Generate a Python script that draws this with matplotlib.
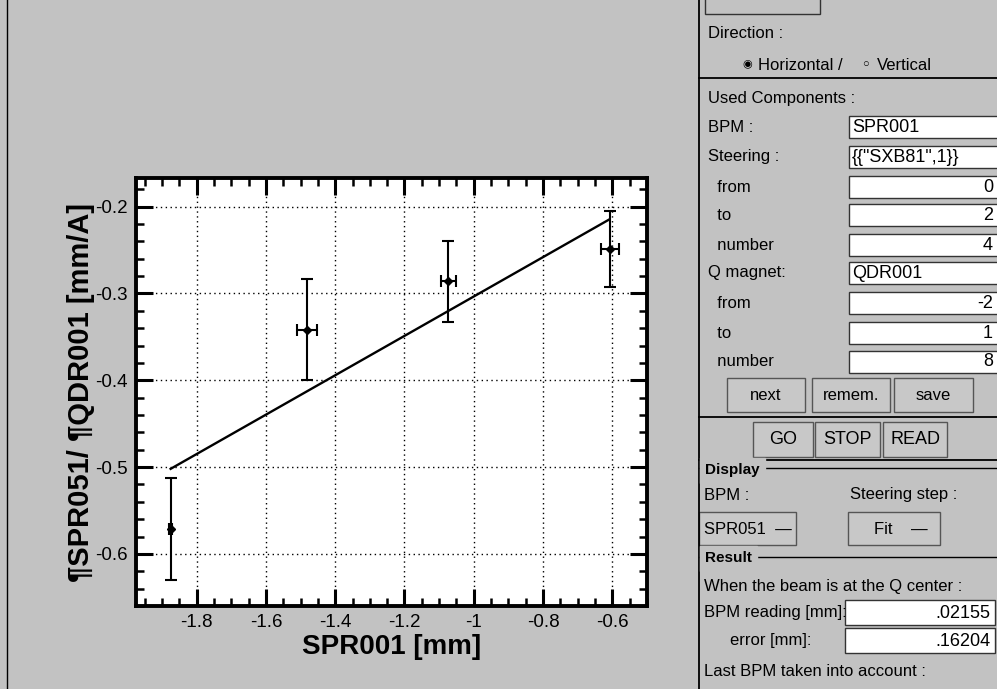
import numpy as np
import matplotlib
matplotlib.use("Agg")
import matplotlib.pyplot as plt
from matplotlib.patches import Rectangle
from matplotlib.ticker import MultipleLocator

plt.rcParams['font.family'] = ['Liberation Sans', 'DejaVu Sans']

# measured points (BPM SPR001 vs slope SPR051/QDR001)
x_pos = [-1.875, -1.482, -1.073, -0.607]
x_err = [0.005, 0.029, 0.022, 0.025]
slope = [-0.571, -0.342, -0.286, -0.249]
slope_err_lo = [0.059, 0.058, 0.047, 0.044]
slope_err_hi = [0.058, 0.059, 0.046, 0.044]

# fitted line end points
fit_x = [-1.875, -0.61]
fit_y = [-0.502, -0.215]

W, H = 997, 689
fig = plt.figure(figsize=(W / 100, H / 100), dpi=100)
fig.patch.set_facecolor('#c2c2c2')

# pixel -> figure fraction helpers
def fx(px):
    return px / W

def fy(py):
    return 1 - py / H

ax = fig.add_axes([fx(136), fy(606), fx(647) - fx(136), fy(178) - fy(606)])
ax.set_facecolor('white')
ax.errorbar(x_pos, slope, yerr=[slope_err_lo, slope_err_hi], xerr=x_err,
            fmt='D', color='black', markersize=4.5, ecolor='black',
            elinewidth=1.5, capsize=4.5, capthick=1.5, zorder=3)
ax.plot(fit_x, fit_y, color='black', lw=1.7, zorder=2)

ax.set_xlim(-1.975, -0.5)
ax.set_ylim(-0.66, -0.167)
ax.xaxis.set_major_locator(MultipleLocator(0.2))
ax.xaxis.set_minor_locator(MultipleLocator(0.05))
ax.yaxis.set_major_locator(MultipleLocator(0.1))
ax.yaxis.set_minor_locator(MultipleLocator(0.02))
ax.xaxis.set_major_formatter(plt.FuncFormatter(lambda v, p: ('%g' % round(v, 2))))
ax.yaxis.set_major_formatter(plt.FuncFormatter(lambda v, p: ('%g' % round(v, 2))))
ax.tick_params(which='major', direction='in', length=12, width=2.2,
               top=True, right=True, labelsize=13.5, pad=6)
ax.tick_params(which='minor', direction='in', length=6, width=1.8,
               top=True, right=True)
for s in ax.spines.values():
    s.set_linewidth(2.8)
ax.grid(True, which='major', color='black', linestyle=(0, (1, 2.5)), lw=1.0)

ax.set_xlabel('SPR001 [mm]', fontsize=20, fontweight='bold', labelpad=2)
ax.set_ylabel('¶SPR051/ ¶QDR001 [mm/A]', fontsize=21, fontweight='bold', labelpad=0)

# ---- control panel on the right ----
def txt(px, py, s, size=12, **kw):
    fig.text(fx(px), fy(py), s, fontsize=size, va='center', **kw)

def box(x0, y0, x1, y1, fc='white', lw=1.0, ec='#333333'):
    fig.add_artist(Rectangle((fx(x0), fy(y1)), fx(x1) - fx(x0), fy(y0) - fy(y1),
                             transform=fig.transFigure, fc=fc, ec=ec, lw=lw))

def hline(y, x0=699, x1=997, lw=1.3):
    fig.add_artist(plt.Line2D([fx(x0), fx(x1)], [fy(y), fy(y)],
                              transform=fig.transFigure, color='black', lw=lw))

def vline(x, y0, y1, lw=1.3):
    fig.add_artist(plt.Line2D([fx(x), fx(x)], [fy(y0), fy(y1)],
                              transform=fig.transFigure, color='black', lw=lw))

vline(699, 0, 689)
vline(7, 0, 689, lw=1.0)
box(705, -5, 820, 14, fc='#c2c2c2')

txt(708, 33, 'Direction :')
txt(742, 64, '◉', size=8)
txt(758, 65, 'Horizontal /')
txt(862, 64, '○', size=8)
txt(877, 66, 'Vertical')
hline(78)

txt(708, 99, 'Used Components :')
labels_left = ['BPM :', 'Steering :', '  from', '  to', '  number',
               'Q magnet:', '  from', '  to', '  number']
field_vals = ['SPR001', '{{"SXB81",1}}', '0', '2', '4', 'QDR001', '-2', '1', '8']
row_y = [127, 157, 187, 215, 245, 273, 303, 333, 362]
for lab, val, ry in zip(labels_left, field_vals, row_y):
    txt(708, ry, lab)
    box(849, ry - 11, 1000, ry + 11)
    if val.startswith(('S', 'Q', '{')):
        txt(852, ry, val, size=13)
    else:
        txt(993, ry, val, size=13, ha='right')

for x0, x1, s in [(727, 805, 'next'), (812, 890, 'remem.'), (894, 973, 'save')]:
    box(x0, 378, x1, 412, fc='#c8c8c8', ec='#555555')
    txt((x0 + x1) / 2, 395, s, ha='center')
hline(417)
for x0, x1, s in [(753, 813, 'GO'), (815, 880, 'STOP'), (883, 947, 'READ')]:
    box(x0, 422, x1, 457, fc='#c8c8c8', ec='#555555')
    txt((x0 + x1) / 2, 440, s, ha='center', size=13)
hline(460)

hline(468, 699, 997, lw=1.0)
txt(705, 470, 'Display', size=11, fontweight='bold', backgroundcolor='#c2c2c2')
txt(704, 495, 'BPM :')
txt(850, 495, 'Steering step :')
box(699, 512, 796, 545, fc='#c8c8c8', ec='#555555')
txt(704, 529, 'SPR051  —')
box(848, 512, 940, 545, fc='#c8c8c8', ec='#555555')
txt(874, 529, 'Fit    —')

hline(557, 699, 997, lw=1.0)
txt(705, 558, 'Result', size=11, fontweight='bold', backgroundcolor='#c2c2c2')
txt(704, 587, 'When the beam is at the Q center :')
txt(704, 613, 'BPM reading [mm]:')
box(845, 600, 995, 625)
txt(990, 613, '.02155', size=13, ha='right')
txt(730, 641, 'error [mm]:')
box(845, 628, 995, 653)
txt(990, 641, '.16204', size=13, ha='right')
txt(704, 671, 'Last BPM taken into account :')

fig.savefig('out.png', dpi=100, facecolor=fig.get_facecolor())
